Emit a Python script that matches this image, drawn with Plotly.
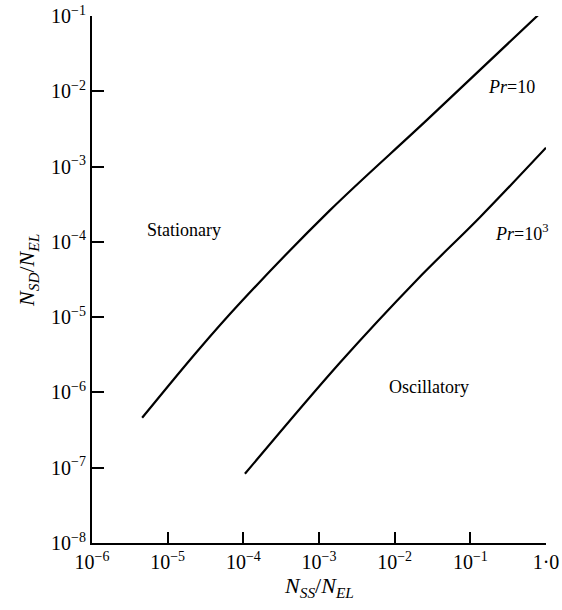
import plotly.graph_objects as go

# Pr = 10 boundary
pr10_x = [4.6e-6, 2.45e-5, 9.1e-5, 1.38e-3, 2.7e-2, 1.0]
pr10_y = [4.6e-7, 3.5e-6, 1.55e-5, 2.6e-4, 4.2e-3, 0.129]

# Pr = 10^3 boundary
pr1000_x = [1.05e-4, 1.9e-3, 1.95e-2, 0.135, 1.0]
pr1000_y = [8.3e-8, 2.5e-6, 3.1e-5, 2.14e-4, 1.78e-3]

x_tickvals = [1e-6, 1e-5, 1e-4, 1e-3, 1e-2, 1e-1, 1.0]
x_ticktext = ["10<sup>−6</sup>", "10<sup>−5</sup>", "10<sup>−4</sup>", "10<sup>−3</sup>",
              "10<sup>−2</sup>", "10<sup>−1</sup>", "1·0"]
y_tickvals = [1e-8, 1e-7, 1e-6, 1e-5, 1e-4, 1e-3, 1e-2, 1e-1]
y_ticktext = ["10<sup>−8</sup>", "10<sup>−7</sup>", "10<sup>−6</sup>", "10<sup>−5</sup>",
              "10<sup>−4</sup>", "10<sup>−3</sup>", "10<sup>−2</sup>", "10<sup>−1</sup>"]

serif = "Liberation Serif"

fig = go.Figure()
fig.add_trace(go.Scatter(x=pr10_x, y=pr10_y, mode="lines",
                         line=dict(color="black", width=2.2, shape="spline"),
                         showlegend=False))
fig.add_trace(go.Scatter(x=pr1000_x, y=pr1000_y, mode="lines",
                         line=dict(color="black", width=2.2, shape="spline"),
                         showlegend=False))

ann_font = dict(family=serif, size=18, color="black")
fig.add_annotation(x=-4.78, y=-3.84, xref="x", yref="y", text="Stationary",
                   showarrow=False, font=ann_font)
fig.add_annotation(x=-1.55, y=-5.93, xref="x", yref="y", text="Oscillatory",
                   showarrow=False, font=ann_font)
fig.add_annotation(x=-0.46, y=-1.94, xref="x", yref="y", text="<i>Pr</i>=10",
                   showarrow=False, font=ann_font)
fig.add_annotation(x=-0.33, y=-3.87, xref="x", yref="y", text="<i>Pr</i>=10<sup>3</sup>",
                   showarrow=False, font=ann_font)

# axis titles as annotations for exact placement
fig.add_annotation(x=-0.141, y=0.518, xref="paper", yref="paper",
                   xanchor="center", yanchor="middle",
                   text="<i>N<sub>SD</sub></i>/<i>N<sub>EL</sub></i>", textangle=-90,
                   showarrow=False, font=dict(family=serif, size=22, color="black"))
fig.add_annotation(x=0.5, y=-0.083, xref="paper", yref="paper",
                   xanchor="center", yanchor="middle",
                   text="<i>N<sub>SS</sub></i>/<i>N<sub>EL</sub></i>",
                   showarrow=False, font=dict(family=serif, size=22, color="black"))

fig.update_layout(
    width=562, height=610,
    margin=dict(l=92, r=16, t=16, b=67, autoexpand=False),
    paper_bgcolor="white", plot_bgcolor="white",
    font=dict(family=serif, size=16, color="black"),
    xaxis=dict(type="log", range=[-6, 0], showline=True, linecolor="black", linewidth=2,
               ticks="inside", ticklen=11, tickwidth=2, tickcolor="black",
               tickvals=x_tickvals, ticktext=x_ticktext, showgrid=False, zeroline=False,
               mirror=False, automargin=False, tickfont=dict(family=serif, size=20)),
    yaxis=dict(type="log", range=[-8, -1], showline=True, linecolor="black", linewidth=2,
               ticks="inside", ticklen=12, tickwidth=2, tickcolor="black",
               tickvals=y_tickvals, ticktext=y_ticktext, showgrid=False, zeroline=False,
               mirror=False, automargin=False, tickfont=dict(family=serif, size=20)),
)

fig.write_html("out.html")
